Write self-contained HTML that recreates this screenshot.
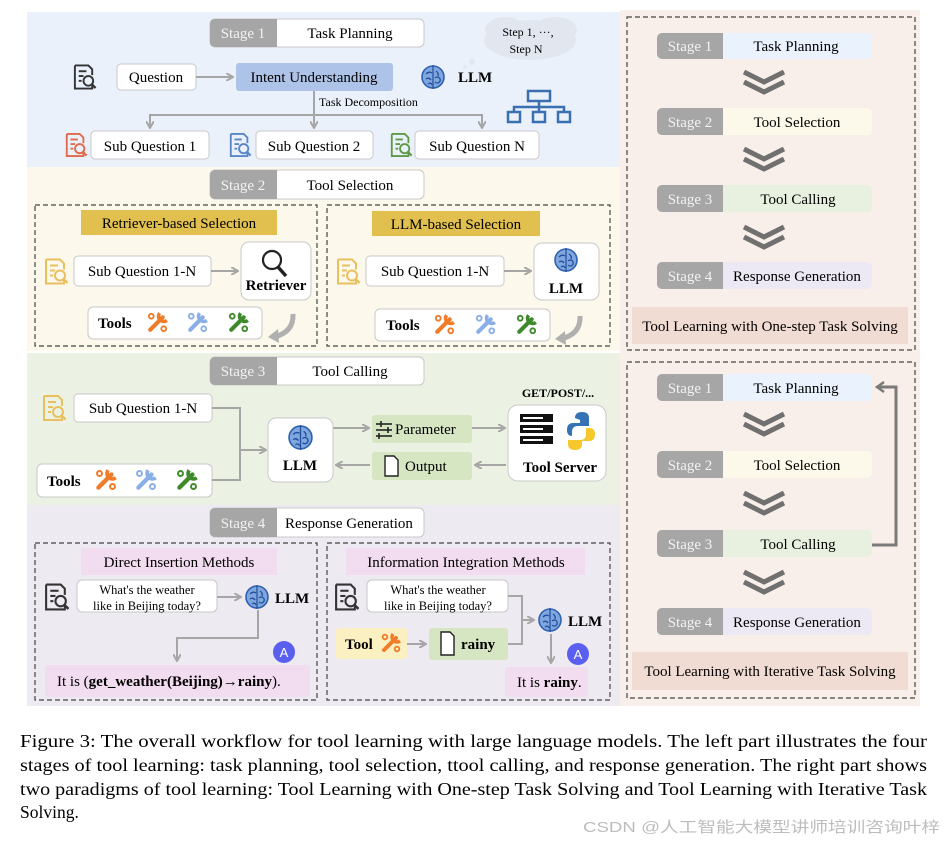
<!DOCTYPE html>
<html><head><meta charset="utf-8"><style>
html,body{margin:0;padding:0;background:#fff;}
svg{display:block;font-family:"Liberation Serif",serif;}
</style></head><body>
<svg width="946" height="841" viewBox="0 0 946 841" xmlns="http://www.w3.org/2000/svg">
<defs>
<symbol id="doc" viewBox="0 0 26 28">
<path d="M3 2 H17 L21 6 V12 M21 23 V26 H3 V2" fill="none" stroke="currentColor" stroke-width="2"/>
<line x1="7" y1="8" x2="15" y2="8" stroke="currentColor" stroke-width="2"/>
<line x1="7" y1="13" x2="12" y2="13" stroke="currentColor" stroke-width="2"/>
<line x1="7" y1="18" x2="10" y2="18" stroke="currentColor" stroke-width="2"/>
<circle cx="17" cy="18" r="5" fill="none" stroke="currentColor" stroke-width="2"/>
<line x1="20.5" y1="21.5" x2="24.5" y2="25.5" stroke="currentColor" stroke-width="2.4"/>
</symbol>
<symbol id="wr" viewBox="0 0 24 24">
<line x1="5" y1="19" x2="17" y2="7" stroke="currentColor" stroke-width="4" stroke-linecap="round"/>
<path d="M14 3 A5 5 0 0 0 21 10" fill="none" stroke="currentColor" stroke-width="3.4"/>
<circle cx="6" cy="6" r="2.3" fill="none" stroke="currentColor" stroke-width="1.8"/>
<circle cx="18" cy="18" r="2.3" fill="none" stroke="currentColor" stroke-width="1.8"/>
</symbol>
<symbol id="brain" viewBox="0 0 26 26">
<circle cx="13" cy="13" r="11" fill="#7fa6de" stroke="#2f62b0" stroke-width="1.6"/>
<path d="M6 10 Q9 7 12 9 M6 15 Q9 13 11 16 M8 20 Q11 18 12 21 M16 7 Q19 9 18 12 M15 14 A3 3 0 1 1 15 18" fill="none" stroke="#1f4f9a" stroke-width="1.3"/>
<line x1="13" y1="1" x2="13" y2="25" stroke="#1f4f9a" stroke-width="1.2"/>
</symbol>
<marker id="ar" markerWidth="8" markerHeight="8" refX="6" refY="4" orient="auto" markerUnits="userSpaceOnUse">
<path d="M0 0 L7 4 L0 8" fill="none" stroke="#a6a6a6" stroke-width="2"/>
</marker>
<marker id="ar2" markerWidth="12" markerHeight="12" refX="8" refY="6" orient="auto" markerUnits="userSpaceOnUse">
<path d="M1 1 L8 6 L1 11" fill="none" stroke="#7a7a7a" stroke-width="2.5"/>
</marker>
</defs>

<rect x="27" y="12" width="593" height="155" fill="#eaf1fb"/>
<rect x="27" y="167" width="593" height="184" fill="#fdf8ec"/>
<rect x="27" y="353" width="593" height="152" fill="#ecf2e3"/>
<rect x="27" y="505" width="593" height="201" fill="#edeaf2"/>
<rect x="620" y="10" width="300" height="696" fill="#f9efea"/>

<g font-size="15">
<rect x="210" y="19" width="214" height="28" rx="5" fill="#fff" stroke="#c8c8c8"/>
<path d="M215 19 H277 V47 H215 A5 5 0 0 1 210 42 V24 A5 5 0 0 1 215 19Z" fill="#a6a6a6"/>
<text x="243" y="38" fill="#f2f2f2" text-anchor="middle">Stage 1</text>
<text x="350" y="38" text-anchor="middle">Task Planning</text>
<rect x="210" y="170" width="214" height="29" rx="5" fill="#fff" stroke="#c8c8c8"/>
<path d="M215 170 H277 V199 H215 A5 5 0 0 1 210 194 V175 A5 5 0 0 1 215 170Z" fill="#a6a6a6"/>
<text x="243" y="190" fill="#f2f2f2" text-anchor="middle">Stage 2</text>
<text x="350" y="190" text-anchor="middle">Tool Selection</text>
<rect x="210" y="357" width="214" height="28" rx="5" fill="#fff" stroke="#c8c8c8"/>
<path d="M215 357 H277 V385 H215 A5 5 0 0 1 210 380 V362 A5 5 0 0 1 215 357Z" fill="#a6a6a6"/>
<text x="243" y="376" fill="#f2f2f2" text-anchor="middle">Stage 3</text>
<text x="350" y="376" text-anchor="middle">Tool Calling</text>
<rect x="210" y="508" width="214" height="29" rx="5" fill="#fff" stroke="#c8c8c8"/>
<path d="M215 508 H277 V537 H215 A5 5 0 0 1 210 532 V513 A5 5 0 0 1 215 508Z" fill="#a6a6a6"/>
<text x="243" y="528" fill="#f2f2f2" text-anchor="middle">Stage 4</text>
<text x="349" y="528" text-anchor="middle">Response Generation</text>
</g>

<use href="#doc" x="72" y="63" width="25" height="28" style="color:#333"/>
<rect x="117" y="64" width="79" height="26" rx="4" fill="#fff" stroke="#c8c8c8"/>
<text x="156" y="82" font-size="15" text-anchor="middle">Question</text>
<line x1="196" y1="77" x2="232" y2="77" stroke="#a6a6a6" stroke-width="2" marker-end="url(#ar)"/>
<rect x="236" y="63" width="157" height="28" rx="3" fill="#aec3e8"/>
<text x="314" y="82" font-size="15" text-anchor="middle">Intent Understanding</text>
<use href="#brain" x="420" y="64" width="26" height="26"/>
<text x="458" y="82" font-size="15" font-weight="bold">LLM</text>
<g fill="#e2e7ef">
<ellipse cx="530" cy="40" rx="46" ry="20"/><ellipse cx="505" cy="30" rx="20" ry="13"/><ellipse cx="555" cy="30" rx="22" ry="13"/>
<circle cx="472" cy="62" r="3"/><circle cx="465" cy="67" r="2"/>
</g>
<text x="528" y="36" font-size="12" text-anchor="middle">Step 1, ···,</text>
<text x="526" y="53" font-size="12" text-anchor="middle">Step N</text>
<g fill="none" stroke="#3a6fb0" stroke-width="2.5">
<rect x="528" y="91" width="22" height="10"/><rect x="508" y="112" width="12" height="10"/><rect x="533" y="112" width="12" height="10"/><rect x="558" y="112" width="12" height="10"/>
<path d="M539 101 V107 M514 112 V107 H564 V112 M539 107 V112"/>
</g>
<text x="319" y="106" font-size="12">Task Decomposition</text>
<g stroke="#a6a6a6" stroke-width="2" fill="none">
<line x1="314" y1="91" x2="314" y2="127" marker-end="url(#ar)"/>
<path d="M150 127 V115 H482 V127" />
<line x1="150" y1="118" x2="150" y2="127" marker-end="url(#ar)"/>
<line x1="482" y1="118" x2="482" y2="127" marker-end="url(#ar)"/>
</g>
<use href="#doc" x="64" y="131" width="24" height="28" style="color:#e06a4a"/>
<rect x="91" y="131" width="118" height="28" rx="4" fill="#fff" stroke="#c8c8c8"/>
<text x="150" y="151" font-size="15" text-anchor="middle">Sub Question 1</text>
<use href="#doc" x="228" y="131" width="24" height="28" style="color:#5a86c8"/>
<rect x="256" y="131" width="117" height="28" rx="4" fill="#fff" stroke="#c8c8c8"/>
<text x="314" y="151" font-size="15" text-anchor="middle">Sub Question 2</text>
<use href="#doc" x="389" y="131" width="24" height="28" style="color:#5e9a45"/>
<rect x="415" y="131" width="124" height="28" rx="4" fill="#fff" stroke="#c8c8c8"/>
<text x="477" y="151" font-size="15" text-anchor="middle">Sub Question N</text>

<g fill="none" stroke="#444" stroke-width="1.2" stroke-dasharray="5,3">
<rect x="35" y="205" width="282" height="141"/>
<rect x="327" y="205" width="283" height="141"/>
<rect x="35" y="543" width="282" height="157"/>
<rect x="327" y="543" width="283" height="157"/>
</g>
<rect x="81" y="210" width="196" height="25" fill="#e2c050"/>
<text x="179" y="228" font-size="15" text-anchor="middle">Retriever-based Selection</text>
<rect x="372" y="211" width="168" height="25" fill="#e2c050"/>
<text x="456" y="229" font-size="15" text-anchor="middle">LLM-based Selection</text>

<use href="#doc" x="43" y="257" width="26" height="29" style="color:#e8c060"/>
<rect x="74" y="256" width="137" height="30" rx="4" fill="#fff" stroke="#c8c8c8"/>
<text x="142" y="276" font-size="15" text-anchor="middle">Sub Question 1-N</text>
<line x1="211" y1="271" x2="237" y2="271" stroke="#a6a6a6" stroke-width="2" marker-end="url(#ar)"/>
<rect x="241" y="242" width="70" height="58" rx="8" fill="#fff" stroke="#c8c8c8"/>
<circle cx="272" cy="260" r="9" fill="none" stroke="#222" stroke-width="2.2"/>
<line x1="278" y1="267" x2="286" y2="276" stroke="#222" stroke-width="3.5"/>
<text x="276" y="290" font-size="15" font-weight="bold" text-anchor="middle">Retriever</text>
<rect x="88" y="307" width="174" height="32" rx="5" fill="#fff" stroke="#c8c8c8"/>
<text x="98" y="328" font-size="15" font-weight="bold">Tools</text>
<use href="#wr" x="145" y="310" width="25" height="25" style="color:#f07b28"/>
<use href="#wr" x="185" y="310" width="25" height="25" style="color:#8aaee6"/>
<use href="#wr" x="226" y="310" width="25" height="25" style="color:#3e8a2a"/>
<path d="M293 314 Q294 332 274 337" fill="none" stroke="#b0b0b0" stroke-width="5"/>
<path d="M268 337 L278 329 L279 343Z" fill="#b0b0b0"/>

<use href="#doc" x="335" y="257" width="26" height="29" style="color:#e8c060"/>
<rect x="366" y="256" width="138" height="30" rx="4" fill="#fff" stroke="#c8c8c8"/>
<text x="435" y="276" font-size="15" text-anchor="middle">Sub Question 1-N</text>
<line x1="504" y1="271" x2="530" y2="271" stroke="#a6a6a6" stroke-width="2" marker-end="url(#ar)"/>
<rect x="534" y="243" width="65" height="57" rx="8" fill="#fff" stroke="#c8c8c8"/>
<use href="#brain" x="553" y="247" width="26" height="26"/>
<text x="566" y="293" font-size="15" font-weight="bold" text-anchor="middle">LLM</text>
<rect x="375" y="309" width="175" height="32" rx="5" fill="#fff" stroke="#c8c8c8"/>
<text x="386" y="330" font-size="15" font-weight="bold">Tools</text>
<use href="#wr" x="432" y="312" width="25" height="25" style="color:#f07b28"/>
<use href="#wr" x="473" y="312" width="25" height="25" style="color:#8aaee6"/>
<use href="#wr" x="514" y="312" width="25" height="25" style="color:#3e8a2a"/>
<path d="M580 316 Q581 334 561 339" fill="none" stroke="#b0b0b0" stroke-width="5"/>
<path d="M555 339 L565 331 L566 345Z" fill="#b0b0b0"/>

<use href="#doc" x="41" y="394" width="26" height="28" style="color:#e8c060"/>
<rect x="74" y="394" width="138" height="28" rx="4" fill="#fff" stroke="#c8c8c8"/>
<text x="143" y="413" font-size="15" text-anchor="middle">Sub Question 1-N</text>
<rect x="37" y="464" width="175" height="33" rx="5" fill="#fff" stroke="#c8c8c8"/>
<text x="47" y="486" font-size="15" font-weight="bold">Tools</text>
<use href="#wr" x="93" y="467" width="26" height="26" style="color:#f07b28"/>
<use href="#wr" x="133" y="467" width="26" height="26" style="color:#8aaee6"/>
<use href="#wr" x="174" y="467" width="26" height="26" style="color:#3e8a2a"/>
<g stroke="#a6a6a6" stroke-width="2" fill="none">
<path d="M212 408 H240 V480 H212"/>
<line x1="240" y1="450" x2="265" y2="450" marker-end="url(#ar)"/>
<line x1="333" y1="428" x2="368" y2="428" marker-end="url(#ar)"/>
<line x1="472" y1="428" x2="504" y2="428" marker-end="url(#ar)"/>
<line x1="506" y1="465" x2="476" y2="465" marker-end="url(#ar)"/>
<line x1="370" y1="465" x2="337" y2="465" marker-end="url(#ar)"/>
</g>
<rect x="268" y="418" width="65" height="64" rx="8" fill="#fff" stroke="#c8c8c8"/>
<use href="#brain" x="287" y="424" width="27" height="27"/>
<text x="300" y="470" font-size="15" font-weight="bold" text-anchor="middle">LLM</text>
<rect x="372" y="415" width="100" height="28" rx="3" fill="#d6e5c2"/>
<g stroke="#222" stroke-width="1.6"><line x1="376" y1="424" x2="392" y2="424"/><line x1="376" y1="430" x2="392" y2="430"/><line x1="376" y1="436" x2="392" y2="436"/><line x1="381" y1="421" x2="381" y2="427"/><line x1="388" y1="427" x2="388" y2="433"/><line x1="379" y1="433" x2="379" y2="439"/></g>
<text x="395" y="434" font-size="15">Parameter</text>
<rect x="372" y="452" width="100" height="28" rx="3" fill="#d6e5c2"/>
<path d="M385 456 H394 L398 460 V476 H385 Z" fill="#fff" stroke="#222" stroke-width="1.4"/>
<text x="405" y="471" font-size="15">Output</text>
<text x="558" y="397" font-size="12" font-weight="bold" text-anchor="middle">GET/POST/...</text>
<rect x="508" y="405" width="98" height="76" rx="10" fill="#fff" stroke="#c8c8c8"/>
<g fill="#111"><rect x="520" y="414" width="33" height="8"/><rect x="520" y="425" width="33" height="8"/><rect x="520" y="436" width="33" height="8"/></g>
<g fill="#fff"><rect x="523" y="417" width="20" height="2"/><rect x="523" y="428" width="20" height="2"/><rect x="523" y="439" width="20" height="2"/></g>
<path d="M575 418 Q575 412 582 412 Q589 412 589 418 V426 H578 Q572 426 572 432 V436 Q567 436 567 430 Q567 423 573 423 H580 V420 Z" fill="#3673b5"/>
<path d="M589 428 Q595 428 595 434 Q595 441 589 441 H582 V444 Q582 450 575 450 Q568 450 568 444 V440 H580 Q586 440 586 434 V428 Z" fill="#f5c92d"/>
<text x="560" y="472" font-size="15" font-weight="bold" text-anchor="middle">Tool Server</text>

<rect x="81" y="548" width="196" height="27" fill="#f2dcef"/>
<text x="179" y="567" font-size="15" text-anchor="middle">Direct Insertion Methods</text>
<use href="#doc" x="43" y="582" width="27" height="30" style="color:#333"/>
<rect x="77" y="580" width="140" height="32" rx="5" fill="#fff" stroke="#c8c8c8"/>
<text x="147" y="594" font-size="12.5" text-anchor="middle">What's the weather</text>
<text x="147" y="610" font-size="12.5" text-anchor="middle">like in Beijing today?</text>
<line x1="217" y1="597" x2="240" y2="597" stroke="#a6a6a6" stroke-width="2" marker-end="url(#ar)"/>
<use href="#brain" x="244" y="584" width="26" height="26"/>
<text x="275" y="603" font-size="15" font-weight="bold">LLM</text>
<path d="M258 610 V638 H177 V660" fill="none" stroke="#a6a6a6" stroke-width="2" marker-end="url(#ar)"/>
<circle cx="284" cy="652" r="11" fill="#5a5ff0"/>
<text x="284" y="657" font-size="13" fill="#fff" text-anchor="middle" font-family="Liberation Sans,sans-serif">A</text>
<rect x="45" y="665" width="265" height="32" rx="3" fill="#f2dcef"/>
<text x="57" y="686" font-size="15">It is (<tspan font-weight="bold">get_weather(Beijing)→rainy</tspan>).</text>

<rect x="346" y="548" width="239" height="27" fill="#f2dcef"/>
<text x="466" y="567" font-size="15" text-anchor="middle">Information Integration Methods</text>
<use href="#doc" x="333" y="582" width="27" height="30" style="color:#333"/>
<rect x="367" y="580" width="141" height="32" rx="5" fill="#fff" stroke="#c8c8c8"/>
<text x="438" y="594" font-size="12.5" text-anchor="middle">What's the weather</text>
<text x="438" y="610" font-size="12.5" text-anchor="middle">like in Beijing today?</text>
<rect x="336" y="628" width="71" height="31" rx="3" fill="#fbf0c2"/>
<text x="345" y="649" font-size="15" font-weight="bold">Tool</text>
<use href="#wr" x="379" y="631" width="24" height="24" style="color:#f07b28"/>
<line x1="407" y1="644" x2="425" y2="644" stroke="#a6a6a6" stroke-width="2" marker-end="url(#ar)"/>
<rect x="429" y="628" width="79" height="32" rx="3" fill="#d6e5c2"/>
<path d="M441 632 H450 L454 636 V655 H441 Z" fill="#fff" stroke="#222" stroke-width="1.4"/>
<text x="461" y="649" font-size="15" font-weight="bold">rainy</text>
<g stroke="#a6a6a6" stroke-width="2" fill="none">
<path d="M508 596 H522 V644 H508"/>
<line x1="522" y1="620" x2="533" y2="620" marker-end="url(#ar)"/>
<line x1="551" y1="634" x2="551" y2="662" marker-end="url(#ar)"/>
</g>
<use href="#brain" x="537" y="607" width="26" height="26"/>
<text x="568" y="626" font-size="15" font-weight="bold">LLM</text>
<circle cx="578" cy="654" r="11" fill="#5a5ff0"/>
<text x="578" y="659" font-size="13" fill="#fff" text-anchor="middle" font-family="Liberation Sans,sans-serif">A</text>
<rect x="505" y="667" width="83" height="30" rx="3" fill="#f2dcef"/>
<text x="517" y="687" font-size="15">It is <tspan font-weight="bold">rainy</tspan>.</text>

<g fill="none" stroke="#444" stroke-width="1.2" stroke-dasharray="5,3">
<rect x="627" y="17" width="288" height="333"/>
<rect x="627" y="362" width="288" height="336"/>
</g>
<g font-size="15">
<rect x="657" y="33" width="215" height="26" rx="5" fill="#eaf2fd"/>
<path d="M662 33 H723 V59 H662 A5 5 0 0 1 657 54 V38 A5 5 0 0 1 662 33Z" fill="#a6a6a6"/>
<text x="690" y="51" fill="#f2f2f2" text-anchor="middle">Stage 1</text>
<text x="796" y="51" text-anchor="middle">Task Planning</text>
<rect x="657" y="108" width="215" height="27" rx="5" fill="#fdf9ea"/>
<path d="M662 108 H723 V135 H662 A5 5 0 0 1 657 130 V113 A5 5 0 0 1 662 108Z" fill="#a6a6a6"/>
<text x="690" y="127" fill="#f2f2f2" text-anchor="middle">Stage 2</text>
<text x="797" y="127" text-anchor="middle">Tool Selection</text>
<rect x="657" y="185" width="215" height="27" rx="5" fill="#e8f1e0"/>
<path d="M662 185 H723 V212 H662 A5 5 0 0 1 657 207 V190 A5 5 0 0 1 662 185Z" fill="#a6a6a6"/>
<text x="690" y="204" fill="#f2f2f2" text-anchor="middle">Stage 3</text>
<text x="798" y="204" text-anchor="middle">Tool Calling</text>
<rect x="657" y="262" width="215" height="27" rx="5" fill="#ece9f4"/>
<path d="M662 262 H723 V289 H662 A5 5 0 0 1 657 284 V267 A5 5 0 0 1 662 262Z" fill="#a6a6a6"/>
<text x="690" y="281" fill="#f2f2f2" text-anchor="middle">Stage 4</text>
<text x="797" y="281" text-anchor="middle">Response Generation</text>
<rect x="632" y="307" width="276" height="37" fill="#f0dcd3"/>
<text x="770" y="331" text-anchor="middle">Tool Learning with One-step Task Solving</text>

<rect x="657" y="374" width="215" height="27" rx="5" fill="#eaf2fd"/>
<path d="M662 374 H723 V401 H662 A5 5 0 0 1 657 396 V379 A5 5 0 0 1 662 374Z" fill="#a6a6a6"/>
<text x="690" y="393" fill="#f2f2f2" text-anchor="middle">Stage 1</text>
<text x="796" y="393" text-anchor="middle">Task Planning</text>
<rect x="657" y="451" width="215" height="27" rx="5" fill="#fdf9ea"/>
<path d="M662 451 H723 V478 H662 A5 5 0 0 1 657 473 V456 A5 5 0 0 1 662 451Z" fill="#a6a6a6"/>
<text x="690" y="470" fill="#f2f2f2" text-anchor="middle">Stage 2</text>
<text x="797" y="470" text-anchor="middle">Tool Selection</text>
<rect x="657" y="530" width="215" height="27" rx="5" fill="#e8f1e0"/>
<path d="M662 530 H723 V557 H662 A5 5 0 0 1 657 552 V535 A5 5 0 0 1 662 530Z" fill="#a6a6a6"/>
<text x="690" y="549" fill="#f2f2f2" text-anchor="middle">Stage 3</text>
<text x="798" y="549" text-anchor="middle">Tool Calling</text>
<rect x="657" y="608" width="215" height="27" rx="5" fill="#ece9f4"/>
<path d="M662 608 H723 V635 H662 A5 5 0 0 1 657 630 V613 A5 5 0 0 1 662 608Z" fill="#a6a6a6"/>
<text x="690" y="627" fill="#f2f2f2" text-anchor="middle">Stage 4</text>
<text x="797" y="627" text-anchor="middle">Response Generation</text>
<rect x="632" y="652" width="276" height="38" fill="#f0dcd3"/>
<text x="770" y="676" text-anchor="middle">Tool Learning with Iterative Task Solving</text>
</g>
<g fill="none" stroke="#707070" stroke-width="5">
<path d="M744 72 L764 82 L784 72 M744 82 L764 92 L784 82"/>
<path d="M744 149 L764 159 L784 149 M744 159 L764 169 L784 159"/>
<path d="M744 227 L764 237 L784 227 M744 237 L764 247 L784 237"/>
<path d="M744 414 L764 424 L784 414 M744 424 L764 434 L784 424"/>
<path d="M744 493 L764 503 L784 493 M744 503 L764 513 L784 503"/>
<path d="M744 572 L764 582 L784 572 M744 582 L764 592 L784 582"/>
</g>
<path d="M872 545 H896 V387 H877" fill="none" stroke="#7a7a7a" stroke-width="3" marker-end="url(#ar2)"/>

<g font-size="17.5">
<text x="20" y="747" textLength="907" lengthAdjust="spacingAndGlyphs">Figure 3: The overall workflow for tool learning with large language models. The left part illustrates the four</text>
<text x="20" y="771" textLength="907" lengthAdjust="spacingAndGlyphs">stages of tool learning: task planning, tool selection, ttool calling, and response generation. The right part shows</text>
<text x="20" y="795" textLength="907" lengthAdjust="spacingAndGlyphs">two paradigms of tool learning: Tool Learning with One-step Task Solving and Tool Learning with Iterative Task</text>
<text x="20" y="818">Solving.</text>
</g>
<text x="583" y="832" font-size="15" fill="#bdbdbd" font-family="Liberation Sans,'Noto Sans CJK SC',sans-serif" textLength="357" lengthAdjust="spacingAndGlyphs">CSDN @人工智能大模型讲师培训咨询叶梓</text>
</svg>
</body></html>
